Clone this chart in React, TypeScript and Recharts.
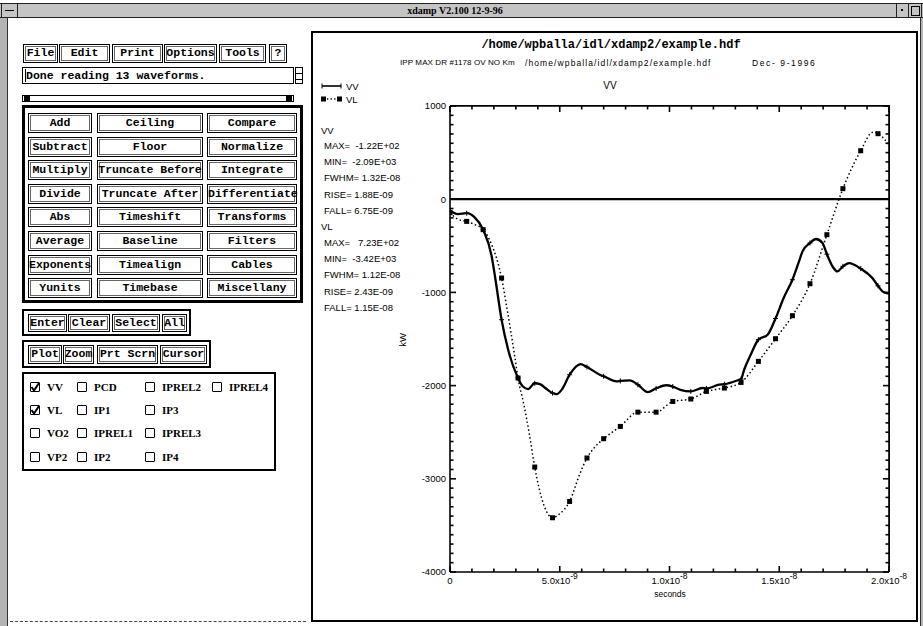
import React from 'react';
import { LineChart, Line, XAxis, YAxis, ReferenceLine } from 'recharts';

// waveforms: time in ns, power in kW
const vvTimes = [0, 0.36, 0.76, 1.1, 1.51, 1.9, 2.05, 2.35, 2.65, 3.1, 3.3, 3.56, 3.86, 4.1, 4.4, 4.67, 4.86, 5.1, 5.45, 5.95, 6.24, 6.82, 7.0, 7.6, 7.76, 8.18, 8.56, 9.01, 9.39, 9.85, 10.15, 10.5, 10.97, 11.5, 11.68, 12.27, 12.5, 13.18, 13.26, 13.4, 13.7, 14.05, 14.47, 14.83, 15.2, 15.6, 15.9, 16.06, 16.4, 16.67, 16.97, 17.17, 17.45, 17.65, 17.9, 18.18, 18.71, 19.24, 19.5, 19.7, 20];
const vvValues = [-125, -160, -150, -190, -327, -614, -829, -1293, -1615, -1919, -2005, -2037, -1975, -1985, -2037, -2080, -2092, -2040, -1883, -1770, -1800, -1883, -1900, -1955, -1950, -1944, -1990, -2071, -2030, -1996, -2010, -2045, -2062, -2026, -2030, -1990, -1985, -1937, -1930, -1830, -1668, -1507, -1454, -1280, -1060, -864, -667, -560, -470, -427, -470, -590, -730, -775, -720, -685, -745, -846, -930, -989, -1014];
const vlTimes = [0, 0.36, 0.76, 1.1, 1.51, 1.9, 2.35, 2.58, 2.95, 3.1, 3.35, 3.6, 3.86, 4.27, 4.67, 5.0, 5.45, 5.9, 6.24, 6.6, 7.0, 7.76, 8.56, 9.39, 10.15, 10.97, 11.68, 12.5, 13.26, 14.05, 14.83, 15.6, 16.4, 17.17, 17.9, 18.71, 19.27, 19.5, 20];
const vlValues = [-145, -215, -238, -270, -327, -488, -846, -1150, -1687, -1919, -2187, -2500, -2874, -3278, -3418, -3375, -3243, -2956, -2777, -2660, -2570, -2438, -2285, -2285, -2170, -2144, -2062, -2026, -1966, -1740, -1497, -1250, -907, -381, 113, 520, 719, 703, 585];
// times where plot symbols are drawn on both curves
const symbolTimes = [0, 0.76, 1.51, 2.35, 3.1, 3.86, 4.67, 5.45, 6.24, 7.0, 7.76, 8.56, 9.39, 10.15, 10.97, 11.68, 12.5, 13.26, 14.05, 14.83, 15.6, 16.4, 17.17, 17.9, 18.71, 19.5];

const xMajorTicks = [0, 5, 10, 15, 20];
const xTickLabels = ['0', '5.0x10|-9', '1.0x10|-8', '1.5x10|-8', '2.0x10|-8'];
const yMajorTicks = [-4000, -3000, -2000, -1000, 0, 1000];
const yTickLabels = ['-4000', '-3000', '-2000', '-1000', '0', '1000'];
const xMinorTicks = Array.from({ length: 21 }, (_, i) => i);
const yMinorTicks = Array.from({ length: 51 }, (_, i) => -4000 + i * 100);

const statNames = ['MAX=', 'MIN=', 'FWHM=', 'RISE=', 'FALL='];
const vvStats = [' -1.22E+02', ' -2.09E+03', '1.32E-08', '1.88E-09', '6.75E-09'];
const vlStats = ['  7.23E+02', ' -3.42E+03', '1.12E-08', '2.43E-09', '1.15E-08'];

const menuItems = ['File', 'Edit', 'Print', 'Options', 'Tools', '?'];
const opRows = [
  ['Add', 'Ceiling', 'Compare'],
  ['Subtract', 'Floor', 'Normalize'],
  ['Multiply', 'Truncate Before', 'Integrate'],
  ['Divide', 'Truncate After', 'Differentiate'],
  ['Abs', 'Timeshift', 'Transforms'],
  ['Average', 'Baseline', 'Filters'],
  ['Exponents', 'Timealign', 'Cables'],
  ['Yunits', 'Timebase', 'Miscellany'],
];
const selectItems = ['Enter', 'Clear', 'Select', 'All'];
const plotItems = ['Plot', 'Zoom', 'Prt Scrn', 'Cursor'];
const channelCols = [
  ['VV', 'VL', 'VO2', 'VP2'],
  ['PCD', 'IP1', 'IPREL1', 'IP2'],
  ['IPREL2', 'IP3', 'IPREL3', 'IP4'],
  ['IPREL4'],
];
const checkedChannels = ['VV', 'VL'];

const vvData = vvTimes.map((t, i) => ({ t, v: vvValues[i], mark: symbolTimes.includes(t) }));
const vlData = vlTimes.map((t, i) => ({ t, v: vlValues[i], mark: symbolTimes.includes(t) }));

const SANS = '"Liberation Sans", Arial, sans-serif';
const MONO = '"Liberation Mono", monospace';
const SERIF = '"Liberation Serif", serif';

// chart geometry
const CHART_X = 312;
const CHART_Y = 30;
const CW = 605;
const CH = 592;
const MARGIN = { top: 76, right: 28, bottom: 20, left: 98 };
const YAXIS_W = 40;
const XAXIS_H = 30;
const PLOT_W = CW - MARGIN.left - MARGIN.right - YAXIS_W;
const PLOT_H = CH - MARGIN.top - MARGIN.bottom - XAXIS_H;

const T = ({ x, y, size = 10, anchor = 'start', family = SANS, weight = 400, spacing = 0, children }: any) => {
  const h = Math.round(size * 1.2);
  const tr = anchor === 'middle' ? 'translateX(-50%)' : anchor === 'end' ? 'translateX(-100%)' : undefined;
  return (
    <div style={{ position: 'absolute', left: x, top: y - h / 2, fontSize: size, lineHeight: `${h}px`, whiteSpace: 'pre', fontFamily: family, fontWeight: weight, letterSpacing: spacing, transform: tr, color: '#000' }}>
      {children}
    </div>
  );
};

const Btn = ({ x, y, w, h = 19, label }: any) => (
  <div style={{
    position: 'absolute', left: x, top: y, width: w, height: h, boxSizing: 'border-box',
    border: '1.5px solid #000', boxShadow: 'inset 0 0 0 1px #fff, inset 0 0 0 2px #666',
    fontFamily: MONO, fontWeight: 700, fontSize: 11.5, lineHeight: `${h - 3}px`, textAlign: 'center', whiteSpace: 'pre', background: '#fff',
  }}>{label}</div>
);

const Box = ({ x, y, w, h, b = 2 }: any) => (
  <div style={{ position: 'absolute', left: x, top: y, width: w, height: h, boxSizing: 'border-box', border: `${b}px solid #000` }} />
);

const SquareDot = (props: any) => {
  const { cx, cy, payload, index } = props;
  if (!payload.mark) return <g key={`s${index}`} />;
  return <rect key={`s${index}`} x={cx - 2.5} y={cy - 2.5} width={5} height={5} fill="#000" />;
};

const PlusDot = (props: any) => {
  const { cx, cy, payload, index } = props;
  if (!payload.mark) return <g key={`p${index}`} />;
  return (
    <g key={`p${index}`} stroke="#000" strokeWidth={1}>
      <line x1={cx - 2.5} y1={cy} x2={cx + 2.5} y2={cy} />
      <line x1={cx} y1={cy - 2.5} x2={cx} y2={cy + 2.5} />
    </g>
  );
};

// IDL style: ticks point inward on both the bottom and the top edge
const XTick = (props: any) => {
  const { x, y, payload } = props;
  const i = xMajorTicks.indexOf(payload.value);
  const len = i >= 0 ? 6 : 3.5;
  const [base, exp] = i >= 0 ? xTickLabels[i].split('|') : ['', ''];
  return (
    <g>
      <line x1={x} y1={y} x2={x} y2={y - len} stroke="#000" strokeWidth={1.6} />
      <line x1={x} y1={y - PLOT_H} x2={x} y2={y - PLOT_H + len} stroke="#000" strokeWidth={1.6} />
      {i >= 0 && (
        <text x={x} y={y + 12} textAnchor="middle" fontSize={9.5} fontFamily={SANS} fill="#000">
          {base}
          {exp && <tspan dy={-5} fontSize={8.5}>{exp}</tspan>}
        </text>
      )}
    </g>
  );
};

const YTick = (props: any) => {
  const { x, y, payload } = props;
  const i = yMajorTicks.indexOf(payload.value);
  const len = i >= 0 ? 6 : 3.5;
  return (
    <g>
      <line x1={x} y1={y} x2={x + len} y2={y} stroke="#000" strokeWidth={1.6} />
      <line x1={x + PLOT_W} y1={y} x2={x + PLOT_W - len} y2={y} stroke="#000" strokeWidth={1.6} />
      {i >= 0 && (
        <text x={x - 4} y={y} dy="0.36em" textAnchor="end" fontSize={9.5} fontFamily={SANS} fill="#000">
          {yTickLabels[i]}
        </text>
      )}
    </g>
  );
};

const X_DOM: [number, number] = [0, 20];
const Y_DOM: [number, number] = [-4000, 1000];
const AXIS_LINE = { stroke: '#000', strokeWidth: 1.6 };

const Plot = () => (
  <LineChart width={CW} height={CH} margin={MARGIN}>
    <XAxis xAxisId="xl" dataKey="t" type="number" domain={X_DOM} allowDataOverflow ticks={xMinorTicks} interval={0}
      height={XAXIS_H} tickLine={false} tickSize={0} tickMargin={0} axisLine={AXIS_LINE} tick={<XTick />} />
    <YAxis yAxisId="yl" type="number" domain={Y_DOM} allowDataOverflow ticks={yMinorTicks} interval={0}
      width={YAXIS_W} tickLine={false} tickSize={0} tickMargin={0} axisLine={AXIS_LINE} tick={<YTick />} />
    <ReferenceLine xAxisId="xl" yAxisId="yl" y={1000} stroke="#000" strokeWidth={1.6} ifOverflow="visible" />
    <ReferenceLine xAxisId="xl" yAxisId="yl" x={20} stroke="#000" strokeWidth={1.6} ifOverflow="visible" />
    <ReferenceLine xAxisId="xl" yAxisId="yl" y={0} stroke="#000" strokeWidth={2.2} ifOverflow="visible" />
    <Line xAxisId="xl" yAxisId="yl" data={vlData} dataKey="v" type="monotone" stroke="#000" strokeWidth={1.5}
      strokeDasharray="1.5 2.5" dot={SquareDot} activeDot={false} isAnimationActive={false} />
    <Line xAxisId="xl" yAxisId="yl" data={vvData} dataKey="v" type="monotone" stroke="#000" strokeWidth={2.3}
      dot={PlusDot} activeDot={false} isAnimationActive={false} />
  </LineChart>
);

const Check = ({ x, y, label, on }: any) => (
  <>
    <div style={{ position: 'absolute', left: x, top: y - 5, width: 10, height: 10, boxSizing: 'border-box', border: '1.5px solid #000', borderRadius: 1 }}>
      {on && (
        <svg width={10} height={10} style={{ position: 'absolute', left: -1.5, top: -1.5 }}>
          <path d="M1.5 5 L4 8.5 L9 1" stroke="#000" strokeWidth={2} fill="none" />
        </svg>
      )}
    </div>
    <T x={x + 17} y={y} size={11} family={SERIF} weight={700}>{label}</T>
  </>
);

export default function App() {
  const menuX = [23, 59, 112, 164, 219, 269];
  const menuW = [35, 51, 51, 53, 47, 18];
  const opCols = [[28, 64], [97, 106], [207, 90]];
  const selX = [[28, 39], [68, 42], [112, 48], [162, 25]];
  const plotX = [[28, 34], [63, 31], [97, 61], [160, 47]];
  const chkX = [30, 77, 145, 212];
  const chkY = [387, 410, 433, 457];
  const plotLeft = CHART_X + MARGIN.left + YAXIS_W;
  const plotTop = CHART_Y + MARGIN.top;

  return (
    <div style={{ position: 'absolute', left: 0, top: 0, width: 923, height: 626, background: '#fff', overflow: 'hidden', fontFamily: SANS }}>
      {/* window frame */}
      <div style={{ position: 'absolute', left: 0, top: 3, width: 923, height: 15, boxSizing: 'border-box', background: '#c4c4c4', borderTop: '1px solid #222', borderBottom: '1px solid #222' }} />
      <div style={{ position: 'absolute', left: 1, top: 4, width: 15, height: 13, borderRight: '1px solid #222', borderLeft: '1px solid #222' }}>
        <div style={{ position: 'absolute', left: 3, top: 6, width: 9, height: 1, background: '#000' }} />
      </div>
      <div style={{ position: 'absolute', left: 896, top: 4, width: 11, height: 13, borderLeft: '1px solid #222' }}>
        <div style={{ position: 'absolute', left: 4, top: 5, width: 2, height: 2, background: '#000' }} />
      </div>
      <div style={{ position: 'absolute', left: 908, top: 4, width: 12, height: 13, borderLeft: '1px solid #222', borderRight: '1px solid #222' }}>
        <div style={{ position: 'absolute', left: 2, top: 2, width: 7, height: 8, border: '1px solid #000' }} />
      </div>
      <T x={455} y={10.5} size={10} family={SERIF} weight={700} anchor="middle">xdamp V2.100 12-9-96</T>
      <div style={{ position: 'absolute', left: 0, top: 18, width: 7, height: 608, background: '#b4b4b4', borderRight: '1px solid #333' }} />
      <div style={{ position: 'absolute', left: 920, top: 18, width: 3, height: 608, background: '#b4b4b4', borderLeft: '1px solid #333' }} />
      <div style={{ position: 'absolute', left: 10, top: 621, width: 296, height: 0, borderTop: '1px dashed #444' }} />

      {/* menu bar */}
      {menuItems.map((m, i) => <Btn key={m} x={menuX[i]} y={44} w={menuW[i]} h={19} label={m} />)}

      {/* message field */}
      <Box x={22} y={67} w={272} h={17} b={1.5} />
      <div style={{ position: 'absolute', left: 25, top: 69, width: 1, height: 13, background: '#000' }} />
      <T x={26} y={75.5} size={11.5} family={MONO} weight={700}>Done reading 13 waveforms.</T>
      <Box x={295} y={67} w={8} h={17} b={1} />
      <div style={{ position: 'absolute', left: 296, top: 73, width: 6, height: 5, borderTop: '1px solid #000', borderBottom: '1px solid #000' }} />
      <Box x={22} y={95} w={272} h={7} b={1.5} />
      <div style={{ position: 'absolute', left: 24, top: 96, width: 6, height: 5, background: '#000' }} />
      <div style={{ position: 'absolute', left: 286, top: 96, width: 6, height: 5, background: '#000' }} />

      {/* operations */}
      <Box x={22} y={105} w={281} h={198} b={3} />
      {opRows.map((row, r) => row.map((lab, c) => (
        <Btn key={lab} x={opCols[c][0]} y={113 + r * 23.6} w={opCols[c][1]} h={20} label={lab} />
      )))}

      <Box x={22} y={309} w={169} h={27} b={2} />
      {selectItems.map((s, i) => <Btn key={s} x={selX[i][0]} y={314} w={selX[i][1]} h={18} label={s} />)}
      <Box x={22} y={340} w={189} h={28} b={2} />
      {plotItems.map((s, i) => <Btn key={s} x={plotX[i][0]} y={345} w={plotX[i][1]} h={19} label={s} />)}

      <Box x={22} y={372} w={254} h={99} b={2} />
      {channelCols.map((col, c) => col.map((lab, r) => (
        <Check key={lab} x={chkX[c]} y={chkY[r]} label={lab} on={checkedChannels.includes(lab)} />
      )))}

      {/* plot panel */}
      <Box x={311} y={31} w={607} h={591} b={2} />
      <div style={{ position: 'absolute', left: CHART_X, top: CHART_Y, width: CW, height: CH }}>
        <Plot />
      </div>
      {/* top and right edges of the plot frame */}
      <div style={{ position: 'absolute', left: plotLeft, top: plotTop - 0.75, width: PLOT_W + 0.75, height: PLOT_H, boxSizing: 'border-box', borderTop: '1.5px solid #000', borderRight: '1.5px solid #000' }} />
      <T x={611} y={45} size={12} family={MONO} weight={700} anchor="middle">/home/wpballa/idl/xdamp2/example.hdf</T>
      <T x={400} y={63} size={8} spacing={0.1}>IPP MAX DR #1178 OV NO Km</T>
      <T x={525} y={63} size={8.5} spacing={1.1}>/home/wpballa/idl/xdamp2/example.hdf</T>
      <T x={752} y={63} size={8.5} spacing={1.6}>Dec- 9-1996</T>
      <T x={610} y={86} size={10} anchor="middle">VV</T>

      {/* legend */}
      <svg style={{ position: 'absolute', left: 318, top: 80 }} width={30} height={24}>
        <line x1={4} y1={6} x2={23} y2={6} stroke="#000" strokeWidth={1.6} />
        <line x1={4} y1={3.5} x2={4} y2={8.5} stroke="#000" />
        <line x1={23} y1={3.5} x2={23} y2={8.5} stroke="#000" />
        <rect x={3} y={16.5} width={5} height={5} fill="#000" />
        <rect x={19} y={16.5} width={5} height={5} fill="#000" />
        <line x1={9} y1={19} x2={18} y2={19} stroke="#000" strokeWidth={1.3} strokeDasharray="1.3 2.3" />
      </svg>
      <T x={346} y={86} size={9.5}>VV</T>
      <T x={346} y={99} size={9.5}>VL</T>

      {/* stats */}
      <T x={321} y={130} size={9.5}>VV</T>
      {statNames.map((n, i) => <T key={'a' + n} x={324} y={145.5 + i * 16.2} size={9.5}>{`${n} ${vvStats[i]}`}</T>)}
      <T x={321} y={226.5} size={9.5}>VL</T>
      {statNames.map((n, i) => <T key={'b' + n} x={324} y={242.5 + i * 16.2} size={9.5}>{`${n} ${vlStats[i]}`}</T>)}

      <div style={{ position: 'absolute', left: 396, top: 334, fontSize: 9.5, lineHeight: '12px', transform: 'rotate(-90deg)', fontFamily: SANS }}>kW</div>
      <T x={670} y={594} size={8.5} anchor="middle">seconds</T>
    </div>
  );
}
